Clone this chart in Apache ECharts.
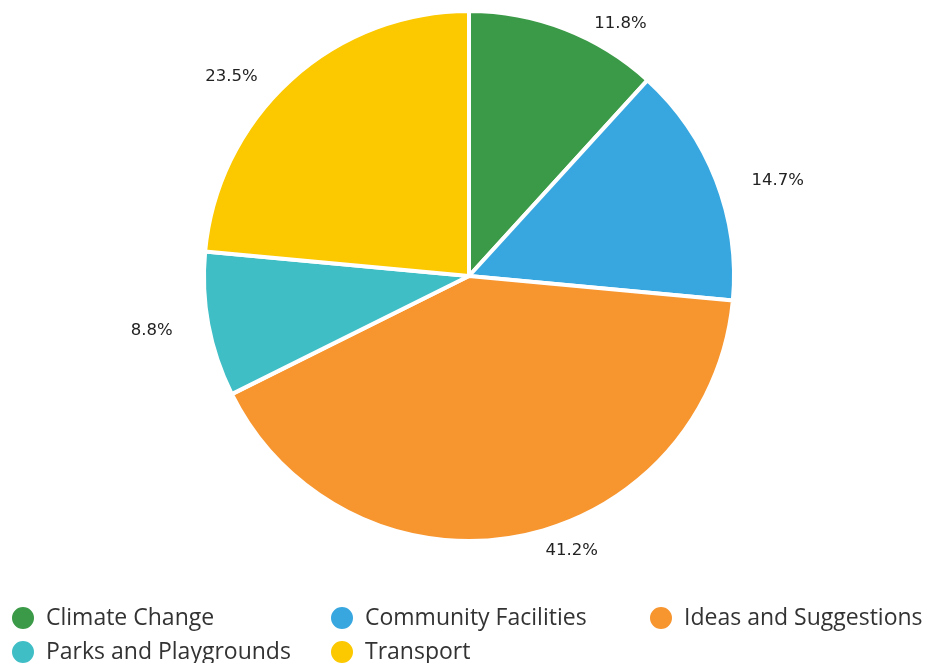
<!DOCTYPE html>
<html><head><meta charset="utf-8">
<script src="https://cdn.jsdelivr.net/npm/echarts@6/dist/echarts.min.js"></script>
<style>html,body{margin:0;padding:0;background:#fff}#c{width:927px;height:663px}</style>
</head><body><div id="c"></div>
<script>
const categories = ['Climate Change','Community Facilities','Ideas and Suggestions','Parks and Playgrounds','Transport'];
const values = [4, 5, 14, 3, 8];
const colors = ['#3b9a47','#38a7e0','#f7952f','#40bec6','#fcc800'];

const chart = echarts.init(document.getElementById('c'), null, {renderer:'canvas'});
chart.setOption({
  animation:false,
  color: colors,
  legend: {
    left: 10, top: 601, width: 975, padding: 0,
    icon: 'circle', itemWidth: 24, itemHeight: 24, itemGap: 0,
    formatter: '{a|{name}}',
    textStyle: {
      rich: { a: {fontFamily:'Open Sans', fontSize:23, color:'#333', width:283, height:34, lineHeight:34, padding:[0,0,0,6]} }
    },
    data: categories
  },
  series: [{
    type:'pie',
    center:[469, 276], radius: 265,
    startAngle: 90, clockwise: true,
    itemStyle:{borderColor:'#fff', borderWidth:4},
    label:{show:true, position:'outside', formatter: p => p.percent.toFixed(1)+'%',
      fontFamily:'DejaVu Sans', fontSize:16.5, color:'#222'},
    labelLine:{show:false, length:10, length2:21},
    labelLayout:{dy:4},
    data: categories.map((n,i)=>({name:n, value:values[i]}))
  }]
});
</script></body></html>
